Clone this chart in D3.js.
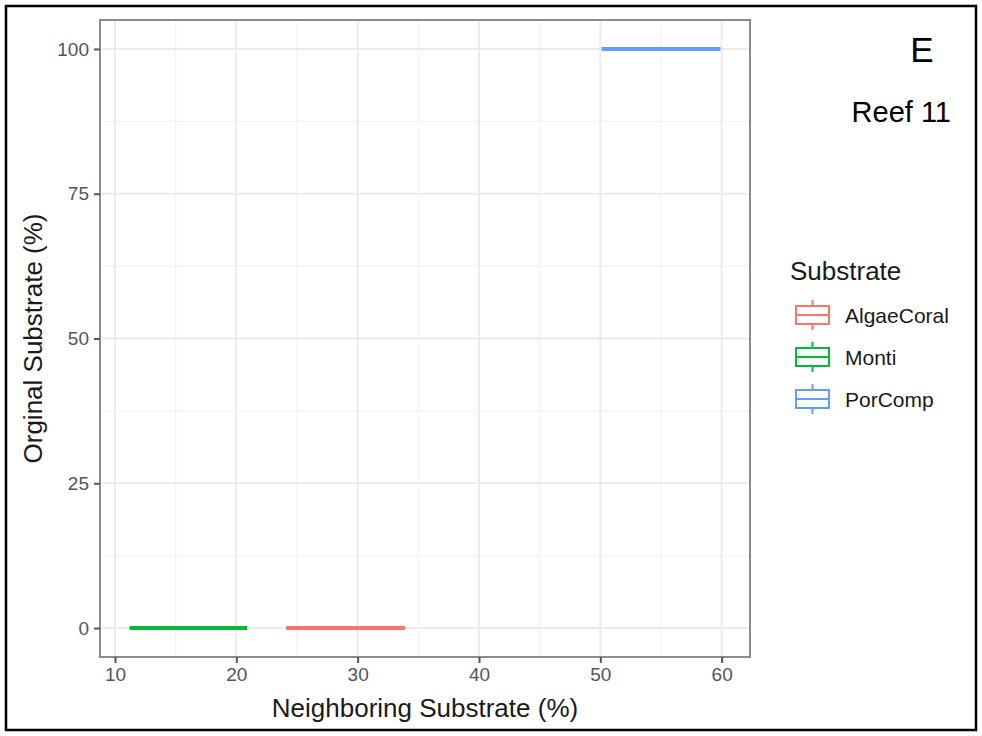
<!DOCTYPE html>
<html>
<head>
<meta charset="utf-8">
<script src="https://cdn.jsdelivr.net/npm/d3@7"></script>
<style>
  html, body { margin: 0; padding: 0; background: #fff; }
  svg { display: block; }
  text { font-family: "Liberation Sans", Arial, sans-serif; }
</style>
</head>
<body>
<svg id="chart" width="982" height="736"></svg>
<script>
// Substrate groups and their boxplot extents along the neighboring axis
const categories = ["AlgaeCoral", "Monti", "PorComp"];
const colors = ["#F8766D", "#00BA38", "#619CFF"];
const xLow = [24.1, 11.2, 50.1];
const xHigh = [33.9, 20.9, 59.9];
const yValue = [0, 0, 100];

const xTicks = [10, 20, 30, 40, 50, 60];
const xMinor = [15, 25, 35, 45, 55];
const yTicks = [0, 25, 50, 75, 100];
const yMinor = [12.5, 37.5, 62.5, 87.5];

const svg = d3.select("#chart");
const W = 982, H = 736;
const panel = { left: 100, top: 20, right: 750, bottom: 657 };

// outer frame
svg.append("rect")
  .attr("x", 6).attr("y", 6).attr("width", W - 12).attr("height", H - 12)
  .attr("fill", "#fff").attr("stroke", "#000").attr("stroke-width", 2.5);

// ggplot-style 5% expansion of the data range
const xmin = d3.min(xLow), xmax = d3.max(xHigh);
const xpad = (xmax - xmin) * 0.05;
const x = d3.scaleLinear().domain([xmin - xpad, xmax + xpad]).range([panel.left, panel.right]);
const y = d3.scaleLinear().domain([-5, 105]).range([panel.bottom, panel.top]);

const g = svg.append("g");

// grid
g.selectAll(".xminor").data(xMinor).join("line")
  .attr("x1", d => x(d)).attr("x2", d => x(d))
  .attr("y1", panel.top).attr("y2", panel.bottom)
  .attr("stroke", "#f2f2f2").attr("stroke-width", 1.2);
g.selectAll(".yminor").data(yMinor).join("line")
  .attr("y1", d => y(d)).attr("y2", d => y(d))
  .attr("x1", panel.left).attr("x2", panel.right)
  .attr("stroke", "#f2f2f2").attr("stroke-width", 1.2);
g.selectAll(".xmajor").data(xTicks).join("line")
  .attr("x1", d => x(d)).attr("x2", d => x(d))
  .attr("y1", panel.top).attr("y2", panel.bottom)
  .attr("stroke", "#ebebeb").attr("stroke-width", 2);
g.selectAll(".ymajor").data(yTicks).join("line")
  .attr("y1", d => y(d)).attr("y2", d => y(d))
  .attr("x1", panel.left).attr("x2", panel.right)
  .attr("stroke", "#ebebeb").attr("stroke-width", 2);

// flat boxplots (all observations share one y value)
categories.forEach((c, i) => {
  g.append("line")
    .attr("x1", x(xLow[i])).attr("x2", x(xHigh[i]))
    .attr("y1", y(yValue[i])).attr("y2", y(yValue[i]))
    .attr("stroke", colors[i]).attr("stroke-width", 4);
});

// panel border
g.append("rect")
  .attr("x", panel.left).attr("y", panel.top)
  .attr("width", panel.right - panel.left).attr("height", panel.bottom - panel.top)
  .attr("fill", "none").attr("stroke", "#8c8c8c").attr("stroke-width", 2);

// axes
const xAxis = d3.axisBottom(x).tickValues(xTicks).tickSize(6).tickPadding(5);
const yAxis = d3.axisLeft(y).tickValues(yTicks).tickSize(6).tickPadding(5);

const gx = svg.append("g").attr("transform", `translate(0,${panel.bottom})`).call(xAxis);
const gy = svg.append("g").attr("transform", `translate(${panel.left},0)`).call(yAxis);
[gx, gy].forEach(a => {
  a.select(".domain").remove();
  a.selectAll(".tick line").attr("stroke", "#555").attr("stroke-width", 2);
  a.selectAll(".tick text").attr("fill", "#555").style("font-size", "19px")
    .style("font-family", "'Liberation Sans', Arial, sans-serif");
});

// axis titles
svg.append("text")
  .attr("x", (panel.left + panel.right) / 2).attr("y", 717)
  .attr("text-anchor", "middle").attr("fill", "#1a1a1a")
  .style("font-size", "26px").text("Neighboring Substrate (%)");
svg.append("text")
  .attr("transform", `translate(42,${(panel.top + panel.bottom) / 2}) rotate(-90)`)
  .attr("text-anchor", "middle").attr("fill", "#1a1a1a")
  .style("font-size", "26px").text("Orginal Substrate (%)");

// legend
const lg = svg.append("g");
lg.append("text").attr("x", 790).attr("y", 280).attr("fill", "#1a1a1a")
  .style("font-size", "26px").text("Substrate");
categories.forEach((c, i) => {
  const cy = 315 + i * 42;
  const k = lg.append("g").attr("stroke", colors[i]).attr("stroke-width", 2).attr("fill", "#fff");
  k.append("line").attr("x1", 812.5).attr("x2", 812.5).attr("y1", cy - 15).attr("y2", cy + 15);
  k.append("rect").attr("x", 796).attr("y", cy - 9).attr("width", 33).attr("height", 18);
  k.append("line").attr("x1", 796).attr("x2", 829).attr("y1", cy).attr("y2", cy);
  lg.append("text").attr("x", 845).attr("y", cy + 8).attr("fill", "#1a1a1a")
    .style("font-size", "21px").text(c);
});

// panel tag and site label
svg.append("text").attr("x", 922).attr("y", 62).attr("text-anchor", "middle")
  .attr("fill", "#000").style("font-size", "35px").text("E");
svg.append("text").attr("x", 951).attr("y", 122).attr("text-anchor", "end")
  .attr("fill", "#000").style("font-size", "29px").text("Reef 11");
</script>
</body>
</html>
